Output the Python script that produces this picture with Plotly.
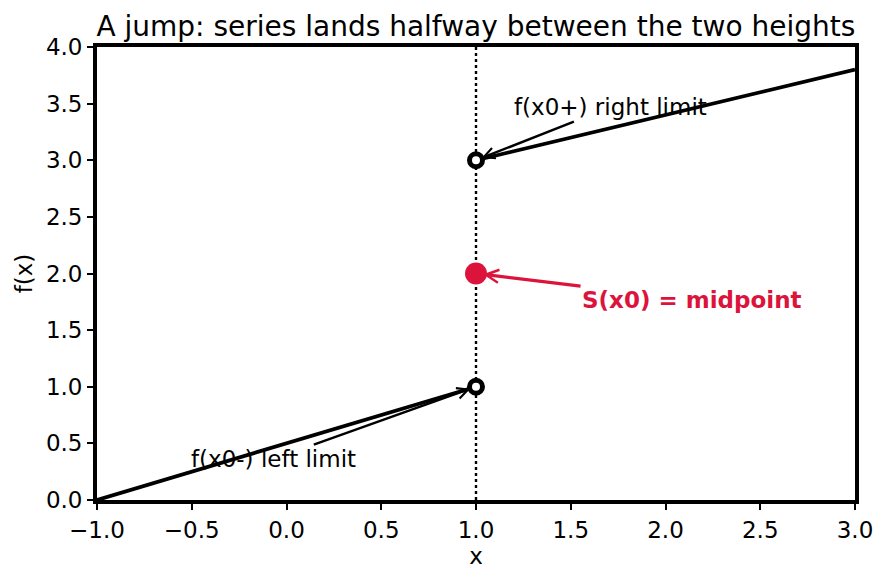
import plotly.graph_objects as go

x_left = [-1.0, 1.0]
y_left = [0.0, 1.0]
x_right = [1.0, 3.0]
y_right = [3.0, 3.8]
x0 = 1.0
left_limit = 1.0
right_limit = 3.0
midpoint = 2.0
x_ticks = [-1.0, -0.5, 0.0, 0.5, 1.0, 1.5, 2.0, 2.5, 3.0]
y_ticks = [0.0, 0.5, 1.0, 1.5, 2.0, 2.5, 3.0, 3.5, 4.0]

FONT = "DejaVu Sans"
FS = 23
fig = go.Figure()

fig.add_trace(go.Scatter(x=[x0, x0], y=[0, 4], mode="lines",
                         line=dict(color="black", width=2.4, dash="dot"), showlegend=False))
fig.add_trace(go.Scatter(x=x_left, y=y_left, mode="lines",
                         line=dict(color="black", width=3.8), showlegend=False))
fig.add_trace(go.Scatter(x=x_right, y=y_right, mode="lines",
                         line=dict(color="black", width=3.8), showlegend=False))
fig.add_trace(go.Scatter(x=[x0, x0], y=[left_limit, right_limit], mode="markers",
                         marker=dict(size=13, color="white", line=dict(color="black", width=5)),
                         showlegend=False))
fig.add_trace(go.Scatter(x=[x0], y=[midpoint], mode="markers",
                         marker=dict(size=22, color="crimson"), showlegend=False))

fig.add_annotation(x=x0, y=right_limit, ax=1.71, ay=3.47, axref="x", ayref="y",
                   text="f(x0+) right limit", showarrow=True, arrowhead=5, arrowsize=0.9,
                   arrowwidth=2.4, arrowcolor="black", standoff=6,
                   font=dict(family=FONT, size=FS, color="black"))
fig.add_annotation(x=x0, y=left_limit, ax=-0.07, ay=0.36, axref="x", ayref="y",
                   text="f(x0-) left limit", showarrow=True, arrowhead=5, arrowsize=0.9,
                   arrowwidth=2.4, arrowcolor="black", standoff=6,
                   font=dict(family=FONT, size=FS, color="black"))
fig.add_annotation(x=x0, y=midpoint, ax=2.14, ay=1.77, axref="x", ayref="y",
                   text="<b>S(x0) = midpoint</b>", showarrow=True, arrowhead=5, arrowsize=0.8,
                   arrowwidth=3.2, arrowcolor="crimson", standoff=7,
                   font=dict(family=FONT, size=FS, color="crimson"))

axis_common = dict(showline=True, linewidth=3.8, linecolor="black", mirror=True,
                   ticks="outside", ticklen=6, tickwidth=1.5, tickcolor="black",
                   showgrid=False, zeroline=False, tickformat=".1f",
                   tickfont=dict(family=FONT, size=FS, color="black"))
fig.update_xaxes(range=[-1, 3], tickvals=x_ticks,
                 title=dict(text="x", font=dict(family=FONT, size=FS, color="black"), standoff=7),
                 **axis_common)
fig.update_yaxes(range=[0, 4], tickvals=y_ticks,
                 title=dict(text="f(x)", font=dict(family=FONT, size=FS, color="black"), standoff=8),
                 **axis_common)

fig.update_layout(
    width=887, height=581,
    margin=dict(l=97, r=32, t=47, b=81),
    plot_bgcolor="white", paper_bgcolor="white",
    title=dict(text="A jump: series lands halfway between the two heights",
               x=0.5365, xanchor="center", y=0.955, yanchor="middle",
               font=dict(family=FONT, size=28, color="black")),
    font=dict(family=FONT),
)

fig.write_html("out.html")
